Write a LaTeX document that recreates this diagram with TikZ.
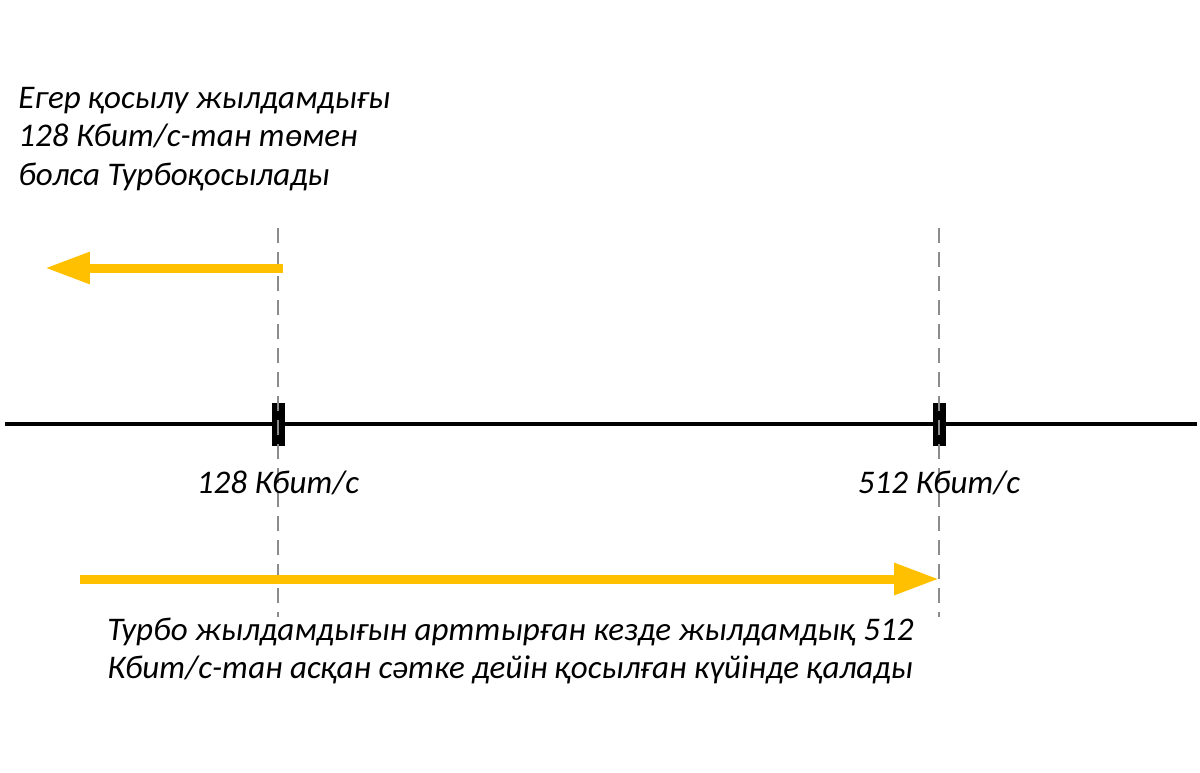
\documentclass[tikz,border=0pt]{standalone}
\usepackage{fontspec}
\setmainfont{Carlito}
\usetikzlibrary{arrows.meta,calc}

\definecolor{turbo}{HTML}{FFC000}
\definecolor{guide}{HTML}{8C8C8C}

\begin{document}
\begin{tikzpicture}[x=0.02cm, y=-0.02cm,
    every node/.style={font=\fontsize{18.8}{22}\selectfont\itshape, inner sep=0pt},
    axisline/.style={line width=0.08cm},
    guideline/.style={guide, line width=0.04cm, dash pattern=on 0.3cm off 0.18cm},
    tickmark/.style={fill=black},
    speedarrow/.style={turbo, line width=0.18cm,
        -{Triangle[length=0.9cm, width=0.6cm]}}]
            \useasboundingbox (0,0) rectangle (1200,772);

            % Axis ends and thresholds
            \coordinate (A_L) at (5,424);
            \coordinate (A_R) at (1197,424);
            \coordinate (T_1) at (278,424);
            \coordinate (T_2) at (939,424);
            \coordinate (G_1_top) at (278,228);
            \coordinate (G_1_bot) at (278,617);
            \coordinate (G_2_top) at (939,228);
            \coordinate (G_2_bot) at (939,617);

            % Draw axis
            \draw[axisline] (A_L) -- (A_R);

            % Draw tick marks
            \filldraw[tickmark] ($(T_1)+(-6,-21)$) rectangle ($(T_1)+(6,21)$);
            \filldraw[tickmark] ($(T_2)+(-6,-21)$) rectangle ($(T_2)+(6,21)$);

            % Draw guide lines
            \draw[guideline] (G_1_top) -- (G_1_bot);
            \draw[guideline] (G_2_top) -- (G_2_bot);

            % Draw arrows
            \coordinate (S_1) at (283,268);
            \coordinate (E_1) at (45,268);
            \coordinate (S_2) at (80,579);
            \coordinate (E_2) at (939,579);
            \draw[speedarrow] (S_1) -- (E_1);
            \draw[speedarrow] (S_2) -- (E_2);

            % Add labels
            \node (L_1) at (278,483) {128 Кбит/с};
            \node (L_2) at (939,483) {512 Кбит/с};
            \node[anchor=west, align=left] (N_top) at (18,139)
                {Егер қосылу жылдамдығы\\128 Кбит/с-тан төмен\\болса Турбоқосылады};
            \node[anchor=west, align=left] (N_bot) at (107,651)
                {Турбо жылдамдығын арттырған кезде жылдамдық 512\\Кбит/с-тан асқан сәтке дейін қосылған күйінде қалады};
        \end{tikzpicture}
\end{document}
